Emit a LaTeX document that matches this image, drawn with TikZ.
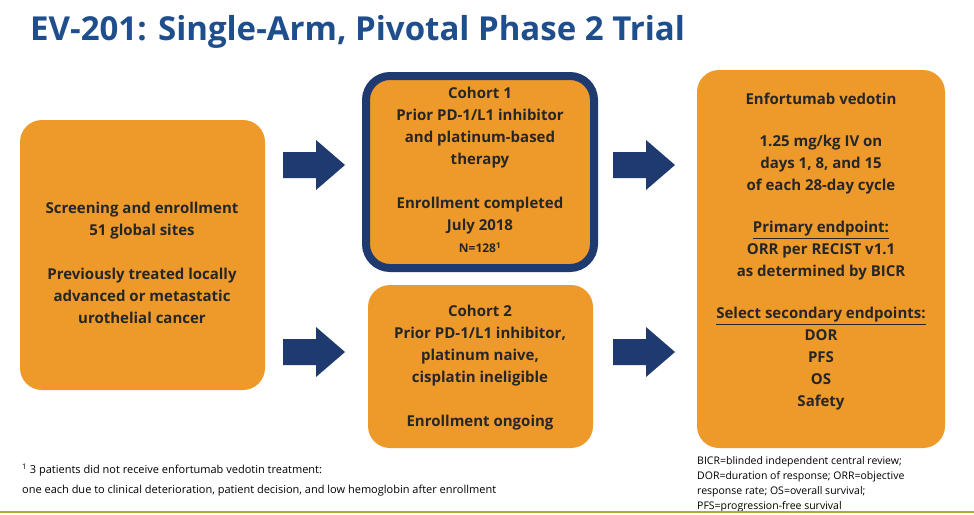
\documentclass[tikz,border=0pt]{standalone}
\usepackage{fontspec}
\setmainfont{Open Sans}
\definecolor{evorange}{HTML}{EE9A2B}
\definecolor{evnavy}{HTML}{1E3A6E}
\definecolor{evtitle}{HTML}{1F4E8C}
\tikzset{
  obox/.style={fill=evorange, rounded corners=22pt, align=center, font=\bfseries\fontsize{15}{22}\selectfont, text=black!85},
  barrow/.style={fill=evnavy},
  fn/.style={font=\fontsize{10.5}{16}\selectfont, align=left, anchor=north west, inner sep=0pt}
}
\newcommand{\blockarrow}[2]{\fill[barrow] (#1,#2-13) -- (#1+33,#2-13) -- (#1+33,#2-25) -- (#1+62,#2) -- (#1+33,#2+25) -- (#1+33,#2+13) -- (#1,#2+13) -- cycle;}
\begin{document}
\begin{tikzpicture}[x=1pt,y=-1pt]
\useasboundingbox (0,0) rectangle (974,514);
\fill[white] (0,0) rectangle (974,514);
\node[anchor=west, text=evtitle, font=\bfseries\fontsize{33}{38}\selectfont, inner sep=0pt] (title) at (30,32) {EV-201: Single-Arm, Pivotal Phase 2 Trial};
\fill[obox] (20,120) rectangle (265,390);
\node[obox, fill=none] (left) at (142,263) {Screening and enrollment\\51 global sites\\[22pt]Previously treated locally\\advanced or metastatic\\urothelial cancer};
\draw[obox, draw=evnavy, line width=8pt, rounded corners=24pt] (366,76) rectangle (594,268);
\node[obox, fill=none] (c1) at (480,170) {Cohort 1\\Prior PD-1/L1 inhibitor\\and platinum-based\\therapy\\[22pt]Enrollment completed\\July 2018\\{\fontsize{12}{14}\selectfont N=128\textsuperscript{1}}};
\fill[obox] (368,285) rectangle (593,448);
\node[obox, fill=none] (c2) at (480,368) {Cohort 2\\Prior PD-1/L1 inhibitor,\\platinum naive,\\cisplatin ineligible\\[22pt]Enrollment ongoing};
\fill[obox] (697,70) rectangle (945,448);
\node[obox, fill=none] (right) at (821,252) {Enfortumab vedotin\\[20pt]1.25 mg/kg IV on\\days 1, 8, and 15\\of each 28-day cycle\\[20pt]\underline{Primary endpoint:}\\ORR per RECIST v1.1\\as determined by BICR\\[20pt]\underline{Select secondary endpoints:}\\DOR\\PFS\\OS\\Safety};
\blockarrow{283}{165}
\blockarrow{283}{352}
\blockarrow{613}{165}
\blockarrow{613}{352}
\node[fn, font=\fontsize{11}{20}\selectfont] (fnl) at (22,464) {\textsuperscript{1} 3 patients did not receive enfortumab vedotin treatment:\\one each due to clinical deterioration, patient decision, and low hemoglobin after enrollment};
\node[fn, font=\fontsize{10.5}{15}\selectfont] (fnr) at (697,456) {BICR=blinded independent central review;\\DOR=duration of response; ORR=objective\\response rate; OS=overall survival;\\PFS=progression-free survival};
\draw[olive!70, line width=1.5pt] (0,512) -- (974,512);
\end{tikzpicture}
\end{document}
